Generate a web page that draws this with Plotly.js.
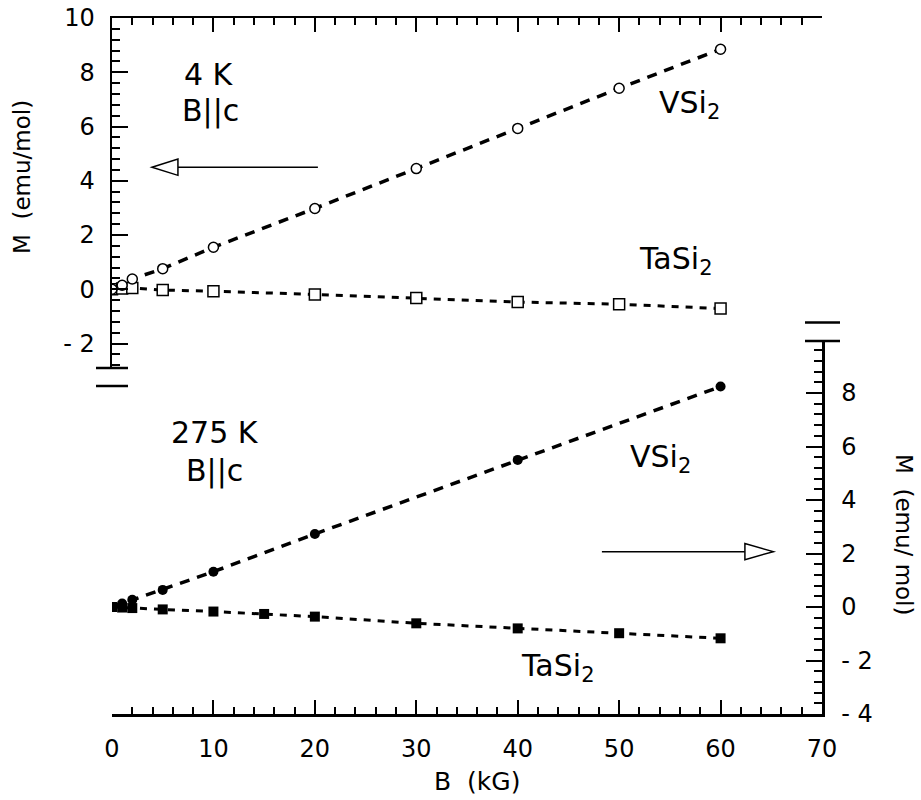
<!DOCTYPE html>
<html><head><meta charset="utf-8">
<script src="https://cdn.plot.ly/plotly-3.0.1.min.js"></script>
<style>html,body{margin:0;padding:0;background:#fff}</style>
</head><body><div id="chart" style="width:921px;height:800px"></div>
<script>
// ---- data ----
const field4K = [0, 1, 2, 5, 10, 20, 30, 40, 50, 60];
const vsi2_4K = [0, 0.15, 0.38, 0.76, 1.55, 2.98, 4.45, 5.93, 7.41, 8.85];
const tasi2_4K = [0, 0.03, 0.05, -0.03, -0.07, -0.19, -0.32, -0.47, -0.55, -0.71];
const fieldVSi2_275K = [0, 1, 2, 5, 10, 20, 40, 60];
const vsi2_275K = [0, 0.13, 0.27, 0.64, 1.32, 2.73, 5.5, 8.24];
const fieldTaSi2_275K = [0, 1, 2, 5, 10, 15, 20, 30, 40, 50, 60];
const tasi2_275K = [0, -0.02, -0.04, -0.09, -0.17, -0.26, -0.36, -0.61, -0.8, -0.98, -1.17];
const xTicks = [0, 10, 20, 30, 40, 50, 60, 70];
const leftTicks = [-2, 0, 2, 4, 6, 8, 10];
const rightTicks = [-4, -2, 0, 2, 4, 6, 8];

// ---- geometry ----
const W = 921, H = 800, L = 112, R = 822, T = 18, B = 714;
const px = p => (p - L) / (R - L);
const py = p => (B - p) / (B - T);
const FONT = 'DejaVu Sans';
const lbl = v => v < 0 ? '- ' + Math.abs(v) : String(v);

const topScale = 27.13, botScale = 26.75;
const topBottomPx = 368, botTopPx = 341, botLeftTopPx = 386, topRightBottomPx = 322.5;

const commonY = {
  showgrid: false, zeroline: false, showline: true, linecolor: '#000', linewidth: 2.5,
  ticks: 'inside', ticklen: 16, tickwidth: 2, tickcolor: '#000',
  minor: {dtick: 0.4, ticks: 'inside', ticklen: 8, tickwidth: 2, tickcolor: '#000'},
  tickfont: {family: FONT, size: 24, color: '#000'}, fixedrange: true
};
const commonX = {
  showgrid: false, zeroline: false, showline: true, linecolor: '#000', linewidth: 2.5,
  range: [0, 70], tickvals: xTicks, ticktext: xTicks.map(String),
  ticks: 'inside', ticklen: 14, tickwidth: 2, tickcolor: '#000',
  minor: {dtick: 2, ticks: 'inside', ticklen: 7, tickwidth: 2, tickcolor: '#000'},
  tickfont: {family: FONT, size: 24, color: '#000'}, fixedrange: true
};

const traces = [
  {x: field4K, y: tasi2_4K, xaxis: 'x2', yaxis: 'y2', mode: 'lines+markers',
   line: {color: '#000', width: 3, dash: '7px,7px'},
   marker: {symbol: 'square', size: 11, color: '#fff', line: {color: '#000', width: 1.5}}},
  {x: field4K, y: vsi2_4K, xaxis: 'x2', yaxis: 'y2', mode: 'lines+markers',
   line: {color: '#000', width: 3.5, dash: '10px,8px'},
   marker: {symbol: 'circle', size: 10, color: '#fff', line: {color: '#000', width: 1.5}}},
  {x: fieldTaSi2_275K, y: tasi2_275K, xaxis: 'x', yaxis: 'y', mode: 'lines+markers',
   line: {color: '#000', width: 3, dash: '7px,7px'},
   marker: {symbol: 'square', size: 10, color: '#000'}},
  {x: fieldVSi2_275K, y: vsi2_275K, xaxis: 'x', yaxis: 'y', mode: 'lines+markers',
   line: {color: '#000', width: 3.5, dash: '10px,8px'},
   marker: {symbol: 'circle', size: 10, color: '#000'}}
];

const ann = (text, x, y, size, extra) => Object.assign({
  text: text, xref: 'paper', yref: 'paper', x: px(x), y: py(y),
  xanchor: 'center', yanchor: 'middle', showarrow: false,
  font: {family: FONT, size: size, color: '#000'}
}, extra || {});

const annotations = [
  ann('4 K', 209, 75, 30), ann('B||c', 210, 111, 30),
  ann('VSi<sub>2</sub>', 689, 104, 30), ann('TaSi<sub>2</sub>', 676, 260, 30),
  ann('275 K', 215, 432, 30), ann('B||c', 214, 471, 30),
  ann('VSi<sub>2</sub>', 660, 458, 30), ann('TaSi<sub>2</sub>', 558, 667, 30),
  ann('M  (emu/mol)', 22, 177, 23, {textangle: -90}),
  ann('M  (emu/ mol)', 904, 534, 23, {textangle: 90}),
  ann('B  (kG)', 477, 781, 25)
];

const seg = (x0, y0, x1, y1) => ({type: 'line', xref: 'paper', yref: 'paper',
  x0: px(x0), y0: py(y0), x1: px(x1), y1: py(y1), line: {color: '#000', width: 2.5}});

// arrows (data coordinates)
const topArrowY = 4.5, botArrowY = 2.07;
const shapes = [
  seg(96, topBottomPx, 128, topBottomPx), seg(96, botLeftTopPx, 128, botLeftTopPx),
  seg(805, topRightBottomPx, 840, topRightBottomPx), seg(805, botTopPx, 840, botTopPx),
  {type: 'line', xref: 'x2', yref: 'y2', x0: 6.5, x1: 20.3, y0: topArrowY, y1: topArrowY,
   line: {color: '#000', width: 1.5}},
  {type: 'path', xref: 'x2', yref: 'y2',
   path: `M 3.94 ${topArrowY} L 6.5 ${topArrowY + 0.3} L 6.5 ${topArrowY - 0.3} Z`,
   fillcolor: '#fff', line: {color: '#000', width: 1.5}},
  {type: 'line', xref: 'x', yref: 'y', x0: 48.3, x1: 62.4, y0: botArrowY, y1: botArrowY,
   line: {color: '#000', width: 1.5}},
  {type: 'path', xref: 'x', yref: 'y',
   path: `M 65.2 ${botArrowY} L 62.4 ${botArrowY + 0.3} L 62.4 ${botArrowY - 0.3} Z`,
   fillcolor: '#fff', line: {color: '#000', width: 1.5}}
];

const layout = {
  width: W, height: H, showlegend: false,
  margin: {l: L, r: W - R, t: T, b: H - B, pad: 0},
  paper_bgcolor: '#fff', plot_bgcolor: 'rgba(0,0,0,0)',
  xaxis: Object.assign({}, commonX, {anchor: 'y', side: 'bottom', ticklabelstandoff: 12}),
  xaxis2: Object.assign({}, commonX, {anchor: 'y2', side: 'top', matches: 'x', showticklabels: false}),
  yaxis: Object.assign({}, commonY, {anchor: 'x', side: 'right',
    domain: [0, py(botTopPx)], range: [-4, -4 + (B - botTopPx) / botScale],
    tickvals: rightTicks, ticktext: rightTicks.map(lbl), ticklabelstandoff: 12}),
  yaxis2: Object.assign({}, commonY, {anchor: 'x2', side: 'left',
    domain: [py(topBottomPx), 1], range: [10 - (topBottomPx - T) / topScale, 10],
    tickvals: leftTicks, ticktext: leftTicks.map(lbl), ticklabelstandoff: 10}),
  yaxis3: Object.assign({}, commonY, {anchor: 'x', side: 'left',
    domain: [0, py(botLeftTopPx)], range: [-4, -4 + (B - botLeftTopPx) / botScale],
    tickvals: rightTicks, showticklabels: false}),
  yaxis4: Object.assign({}, commonY, {anchor: 'x2', side: 'right',
    domain: [py(topRightBottomPx), 1], range: [10 - (topRightBottomPx - T) / topScale, 10],
    tickvals: leftTicks, showticklabels: false}),
  annotations: annotations, shapes: shapes
};

Plotly.newPlot('chart', traces, layout, {displayModeBar: false, staticPlot: true});
</script></body></html>
